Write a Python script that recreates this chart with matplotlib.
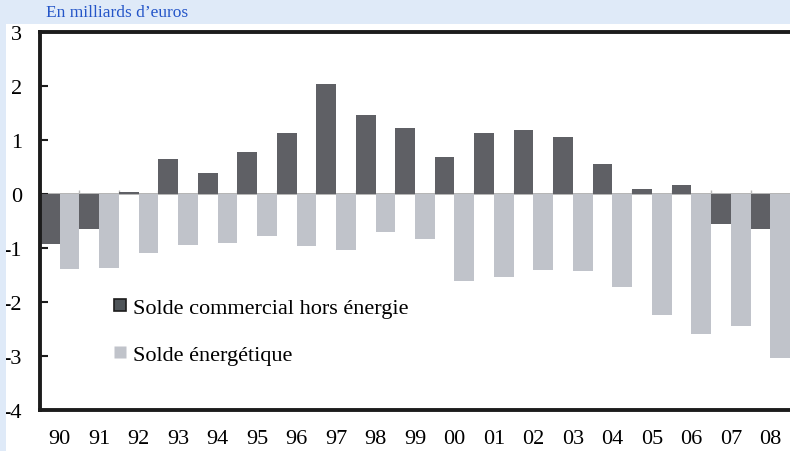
import numpy as np
import matplotlib
matplotlib.use("Agg")
import matplotlib.pyplot as plt
from matplotlib.patches import Rectangle

years = ["90", "91", "92", "93", "94", "95", "96", "97", "98", "99",
         "00", "01", "02", "03", "04", "05", "06", "07", "08"]
hors_energie = [-0.93, -0.65, 0.03, 0.65, 0.39, 0.78, 1.13, 2.03, 1.47, 1.22,
                0.69, 1.13, 1.18, 1.05, 0.56, 0.10, 0.16, -0.55, -0.64]
energetique = [-1.39, -1.37, -1.10, -0.95, -0.90, -0.77, -0.97, -1.03, -0.71, -0.84,
               -1.62, -1.53, -1.40, -1.42, -1.72, -2.24, -2.59, -2.44, -3.03]
yticks = [-4, -3, -2, -1, 0, 1, 2, 3]

dark = "#5f6065"
light = "#c0c3ca"
band = "#dfeaf8"

plt.rcParams['font.family'] = ['Liberation Serif', 'DejaVu Serif']

fig = plt.figure(figsize=(7.9, 4.52), dpi=100)

# light blue frame (top band + left strip)
fig.patches.append(Rectangle((0, 1 - 25 / 452), 1, 25 / 452, transform=fig.transFigure,
                             facecolor=band, edgecolor="none", zorder=0))
fig.patches.append(Rectangle((0, 0), 6 / 790, 1, transform=fig.transFigure,
                             facecolor=band, edgecolor="none", zorder=0))
fig.text(46 / 790, 1 - 13 / 452, "En milliards d\u2019euros", color="#2455c8",
         fontsize=12.5, ha="left", va="center")

ax = fig.add_axes([40 / 790, 1 - 411 / 452, 1 - 40 / 790, 378 / 452])
ax.patch.set_alpha(0)

x = np.arange(len(years))
w = 0.5
ax.bar(x - w / 2, hors_energie, width=w, color=dark, label="Solde commercial hors \u00e9nergie",
       edgecolor="none", zorder=2)
ax.bar(x + w / 2, energetique, width=w, color=light, label="Solde \u00e9nerg\u00e9tique",
       edgecolor="none", zorder=2)

# zero line with little separators
ax.axhline(0, color="#a8a8a8", lw=1.2, zorder=1)
ax.vlines(x[1:] - 0.5, 0, 0.08, color="#b8b8b8", lw=1, zorder=1)

ax.set_xlim(-0.5, len(years) - 0.5)
ax.set_ylim(-4, 3)
ax.set_yticks(yticks)
ax.set_yticklabels(["-%d" % -t if t < 0 else "%d" % t for t in yticks])
ax.set_xticks(x)
ax.set_xticklabels(years)

for s in ["left", "bottom", "top"]:
    ax.spines[s].set_linewidth(2.8)
    ax.spines[s].set_color("#1c1c1c")
ax.spines["right"].set_visible(False)

ax.tick_params(axis="y", direction="in", length=6, width=1.5, pad=13, labelsize=16,
               color="#1c1c1c")
ax.tick_params(axis="x", length=0, pad=14, labelsize=16)

# legend
h1 = plt.Line2D([], [], marker="s", ls="none", markersize=9, markerfacecolor="#4e5458",
                markeredgecolor="#1c1c1c", markeredgewidth=1.2)
h2 = plt.Line2D([], [], marker="s", ls="none", markersize=9, markerfacecolor=light,
                markeredgecolor="none")
ax.legend([h1, h2], ["Solde commercial hors \u00e9nergie", "Solde \u00e9nerg\u00e9tique"],
          loc="upper left", bbox_to_anchor=(0.066, 0.35), frameon=False, fontsize=16,
          handletextpad=0.15, labelspacing=1.18, handlelength=0.9)

fig.savefig("out.png", dpi=100)
